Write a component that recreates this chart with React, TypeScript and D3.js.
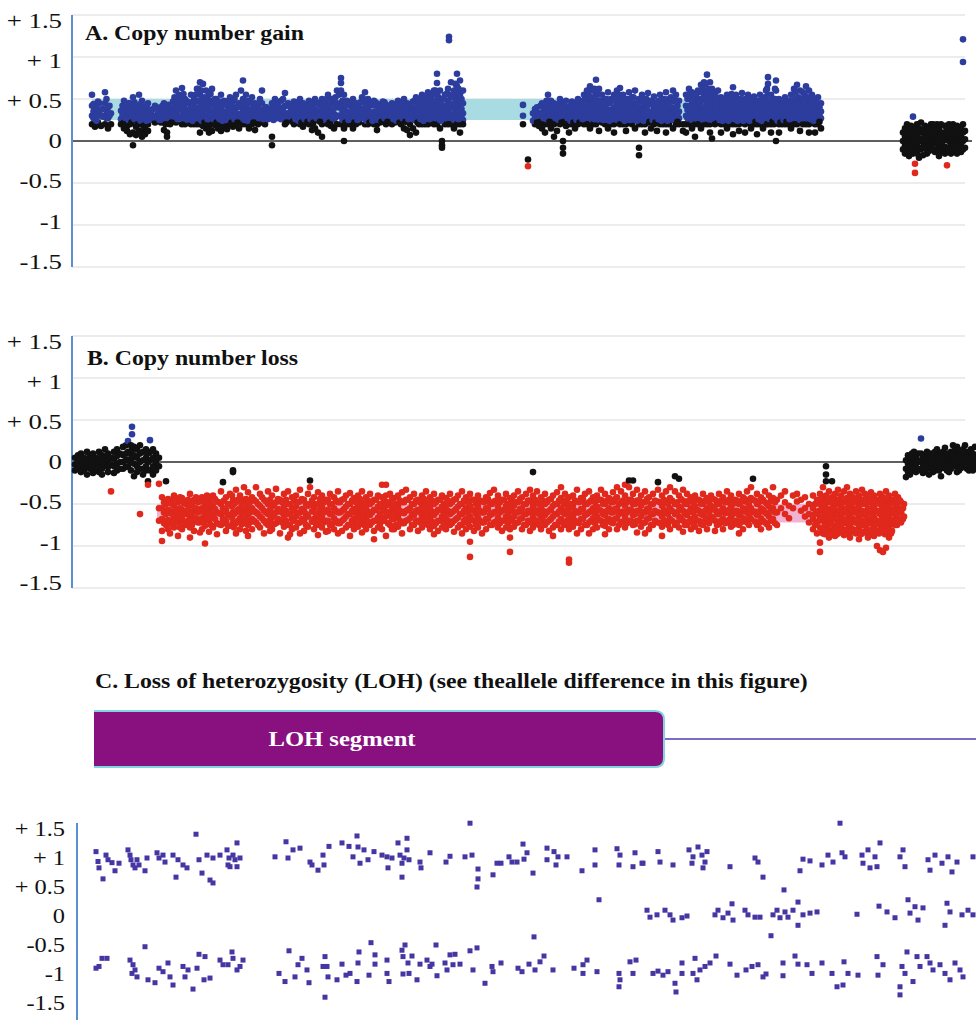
import React, { useEffect, useRef } from "react";
import * as d3 from "d3";

// y ticks shared by the three panels
const tickValues = [1.5, 1, 0.5, 0, -0.5, -1, -1.5];
const tickLabels = ["+ 1.5", "+ 1", "+ 0.5", "0", "-0.5", "-1", "-1.5"];

// probe position runs 0..904 along the chromosome (arbitrary units)
const positionDomain = [0, 904];

// A. copy number gain - each entry is [position, log2 ratio, log2 ratio, ...]
const gainProbes = [
  [20, .55, .42, .3, .2], [23, .38, .27, .17], [26, .47, .33, .22], [29, .3, .18], [33, .58, .45, .3, .2],
  [36, .4, .27, .15], [39, .33, .2], [49, .36, .26, .2], [52, .48, .32, .22, .15], [55, .4, .28, .18, .12],
  [58, .45, .3, .2, .08], [61, .52, .36, .25, .1, -.05], [64, .42, .3, .17, .07], [67, .55, .4, .27, .2, .12],
  [70, .48, .33, .22, .1, .05], [73, .4, .3, .15, .08], [76, .45, .28, .2, .12], [79, .35, .25], [83, .42, .3, .22],
  [86, .33, .27], [89, .4, .3, .22], [92, .45, .28, .13], [95, .37, .25, .1, .05], [98, .33, .27, .2],
  [101, .47, .35, .25], [104, .6, .45, .32, .22], [107, .55, .4, .28], [110, .63, .45, .3, .2], [113, .5, .38, .27, .2],
  [116, .45, .32, .25], [119, .55, .4, .3, .2], [122, .5, .35, .27, .2], [125, .62, .47, .33, .2],
  [128, .7, .55, .4, .28, .2, .1], [131, .68, .5, .37, .26, .18], [134, .6, .45, .3, .2, .15], [137, .55, .4, .28, .18, .1],
  [140, .62, .48, .34, .25, .2, .12], [143, .5, .37, .27, .19], [146, .45, .33, .25, .15], [149, .55, .4, .28, .2, .12],
  [152, .48, .35, .27, .18], [155, .42, .3, .2, .14], [158, .52, .38, .28, .2], [161, .47, .33, .25, .17],
  [164, .55, .4, .28, .2], [167, .45, .32, .25, .15], [171, .72, .5, .38, .27, .2], [174, .55, .4, .3, .2],
  [177, .48, .35, .27, .15], [180, .52, .38, .28, .2], [183, .45, .32, .25, .13], [186, .4, .3, .2], [190, .6, .45, .3, .22],
  [193, .4, .28, .2], [196, .35, .26], [200, .45, .3, .05, -.05], [203, .5, .38, .27], [206, .42, .3], [209, .48, .35, .26],
  [213, .57, .42, .3, .2], [216, .45, .33, .25], [219, .38, .28], [222, .47, .35, .27, .2], [225, .42, .3, .22],
  [228, .5, .36, .27, .2], [231, .45, .32, .25, .17], [234, .4, .3, .22], [237, .48, .35, .27, .2], [240, .43, .3, .2, .13],
  [243, .5, .37, .26, .15], [246, .45, .33, .25, .1], [250, .5, .38, .27, .2, .05], [253, .47, .33, .25],
  [256, .55, .4, .28, .2], [259, .5, .36, .27, .18], [262, .45, .32, .25, .15], [265, .6, .45, .3, .2],
  [269, .75, .69, .6, .45, .3, .2], [272, .55, .4, .28, .15, 0], [275, .48, .35, .25, .2], [278, .42, .3, .2],
  [281, .5, .37, .27, .15], [284, .45, .33, .25, .2], [287, .4, .3, .22], [290, .52, .38, .28], [293, .58, .45, .32, .2],
  [296, .5, .37, .27, .2], [299, .45, .33, .25], [302, .48, .35, .27, .2], [305, .42, .3, .2, .13], [308, .4, .3, .22],
  [311, .47, .35, .25], [314, .43, .32, .25, .2], [317, .38, .28], [320, .45, .33, .25, .2], [323, .4, .3, .22],
  [326, .48, .35, .27], [329, .44, .32, .25, .2], [332, .5, .36, .27, .15], [335, .45, .33, .25, .13], [338, .4, .3, .2, .07],
  [341, .47, .35, .27, .15], [344, .52, .38, .28, .1], [347, .45, .33, .25, .2], [350, .55, .4, .3, .2], [353, .5, .38, .28, .2],
  [356, .58, .45, .33, .2], [359, .52, .4, .3, .22], [362, .6, .45, .33, .25, .2], [365, .8, .69, .55, .4, .3, .2],
  [368, .6, .45, .33, .25, .15], [370, .5, .35, 0, -.05, -.08], [373, .55, .42, .3, .2], [376, .62, .48, .35, .25, .2],
  [377, 1.24, 1.2], [379, .7, .52, .4, .3, .2], [382, .6, .45, .33, .25, .15], [385, .8, .65, .5, .38, .28, .2],
  [388, .72, .55, .42, .3, .2, .1], [391, .6, .45, .33, .25, .2],
  [451, .43, .3, .2], [456, -.22, -.3], [463, .38, .28, .2], [467, .33, .26, .18], [470, .45, .32, .25, .15],
  [473, .4, .3, .2, .1], [476, .55, .42, .3, .2], [479, .48, .35, .25, .15], [482, .45, .32, .25, .2, .05],
  [485, .42, .3, .22, .12], [488, .5, .37, .27, .2], [491, .45, .33, .25, 0, -.08, -.15], [494, .48, .35, .25, .18],
  [497, .4, .3, .2, .1], [500, .47, .35, .27, .2], [503, .43, .32, .25, .15], [506, .5, .37, .27, .2], [509, .45, .33, .25],
  [512, .55, .4, .3, .2], [515, .6, .47, .35, .25, .2], [518, .65, .5, .38, .28, .15], [521, .6, .45, .33, .25, .2],
  [524, .73, .55, .4, .3, .2], [527, .62, .48, .35, .25, .12], [530, .55, .42, .3, .22], [533, .5, .38, .28, .2],
  [536, .58, .45, .33, .25, .15], [539, .5, .37, .27, .2], [542, .55, .4, .3, .2, .1], [545, .6, .45, .32, .25],
  [548, .63, .48, .35, .27, .2], [551, .55, .42, .3, .2], [554, .5, .37, .27, .2, .12], [557, .58, .45, .32, .25],
  [560, .52, .4, .28, .2], [563, .6, .45, .33, .25, .15], [567, .5, .37, .27, .2, -.08, -.17], [570, .55, .4, .3, .2],
  [573, .5, .38, .27, .2, .1], [576, .57, .43, .3, .22], [579, .48, .35, .27, .15], [582, .53, .4, .28, .2],
  [585, .45, .33, .25, .12], [588, .55, .42, .3, .2], [591, .5, .37, .27, .2], [594, .58, .43, .3, .2, .1],
  [597, .5, .38, .28, .2], [601, .6, .47, .35, .25, .15], [604, .55, .4, .3, .2], [607, .48, .35, .27, .2], [611, .2, .12],
  [614, .55, .42, .3, .2, .1], [617, .62, .5, .37, .27, .2], [620, .58, .45, .33, .25, .15], [623, .55, .42, .3, .2, .05],
  [626, .6, .47, .35, .25, .2], [629, .67, .5, .37, .27, .15], [632, .7, .55, .4, .3, .2], [635, .79, .6, .45, .33, .25, .2],
  [638, .7, .55, .4, .3, .2, .1], [640, .62, .48, .35, .25, .03], [643, .58, .45, .33, .25, .2], [646, .6, .45, .32, .22],
  [649, .52, .4, .28, .2, .1], [652, .5, .37, .27, .2], [655, .55, .42, .3, .2, .15], [658, .5, .38, .28, .2],
  [661, .64, .48, .35, .25, .2, .08], [664, .55, .42, .3, .2], [667, .5, .38, .27, .2, .12], [670, .57, .43, .32, .25],
  [673, .5, .37, .27, .2, .1], [676, .55, .42, .3, .22], [679, .5, .38, .27, .2, .15], [682, .53, .4, .28, .2],
  [685, .48, .35, .27, .2, .08], [688, .55, .42, .3, .2], [691, .5, .38, .28, .2, .15], [694, .6, .45, .33, .25, .2],
  [696, .76, .68, .55, .4, .3, .2], [699, .55, .42, .3, .2, .1], [702, .5, .37, .27, .2], [704, .72, .6, .45, .33, .25, 0],
  [707, .5, .38, .28, .2, .1], [710, .45, .33, .25, .2], [713, .52, .4, .28, .2], [716, .48, .35, .27, .2],
  [719, .55, .42, .3, .22, .15], [722, .62, .48, .35, .25, .2], [725, .67, .5, .37, .27, .2], [728, .6, .45, .33, .25, .12],
  [731, .58, .43, .3, .2], [734, .65, .5, .37, .27, .2], [737, .6, .47, .35, .25, .2, .1], [740, .55, .42, .3, .22],
  [743, .5, .38, .28, .2, .1], [746, .52, .4, .3, .25, .2], [749, .45, .35, .27, .15],
  [831, .1, 0, -.1], [833, .15, .05, -.05, -.15], [835, .2, .08, -.02, -.12], [837, .12, .02, -.08, -.18],
  [839, .18, .07, -.03, -.1], [841, .29, .15, .05, -.05, -.15], [843, .1, 0, -.12, -.27, -.38], [845, .2, .08, -.05, -.15],
  [847, .15, .03, -.08, -.2], [849, .22, .1, 0, -.1], [851, .12, .02, -.07, -.17], [853, .18, .05, -.05],
  [855, .1, 0, -.1, -.15], [857, .15, .05, -.05, -.12], [859, .2, .1, 0, -.08], [861, .2, .12, .02, -.1],
  [863, .17, .07, -.03, -.13], [865, .2, .1, 0, -.1], [867, .15, .05, -.05, -.18], [869, .2, .08, -.02, -.12],
  [871, .1, 0, -.1], [873, .18, .05, -.07, -.15], [875, .12, .02, -.08, -.29], [877, .2, .1, 0, -.1],
  [879, .15, .05, -.05, -.15], [881, .2, .08, -.03, -.12], [883, .12, .02, -.08], [885, .18, .06, -.05, -.15],
  [887, .1, 0, -.1], [889, .15, .05, -.05, -.13], [891, 1.21, .94, .2, .1, 0, -.1], [893, .12, .02, -.08],
];
// in-between probes of the dense gain core
const gainProbesInner = [
  [21.5, .44, .35, .27], [24.5, .4, .31, .24], [27.5, .45, .36], [30.5, .38, .29], [34.5, .5, .36, .27], [37.5, .42, .3],
  [50.5, .42, .31], [53.5, .38, .27, .2], [56.5, .45, .34, .25], [59.5, .4, .31, .22], [62.5, .46, .33, .26], [65.5, .36, .28, .2],
  [68.5, .44, .33, .24], [71.5, .38, .27, .18], [74.5, .42, .33, .24], [77.5, .37, .29], [81, .38, .28], [84.5, .4, .3],
  [87.5, .36, .25], [90.5, .42, .33, .25], [93.5, .39, .3, .2], [96.5, .43, .31], [99.5, .38, .3, .22], [102.5, .52, .42, .3],
  [105.5, .5, .36, .26], [108.5, .5, .38, .27], [111.5, .56, .42, .32], [114.5, .48, .35, .26], [117.5, .46, .35, .26],
  [120.5, .44, .32, .24], [123.5, .55, .4, .3], [126.5, .62, .48, .36, .27], [129.5, .6, .45, .33, .24], [132.5, .52, .4, .3, .22],
  [135.5, .5, .37, .26], [138.5, .56, .43, .3], [141.5, .45, .33, .26], [144.5, .5, .4, .3, .22], [147.5, .47, .35, .26],
  [150.5, .44, .32, .24], [153.5, .46, .34, .25], [156.5, .48, .36, .26], [159.5, .42, .3, .22], [162.5, .5, .36, .26],
  [165.5, .4, .3, .22], [169, .6, .44, .32], [172.5, .48, .35, .25], [175.5, .44, .32, .24], [178.5, .46, .34, .25],
  [181.5, .4, .3, .22], [184.5, .44, .34], [188, .5, .37, .27], [191.5, .36, .26], [194.5, .4, .3], [198, .38, .28],
  [201.5, .44, .34, .25], [204.5, .46, .36, .27], [207.5, .4, .3], [211, .5, .37, .27], [214.5, .42, .3, .22], [217.5, .44, .33],
  [220.5, .42, .31, .23], [223.5, .46, .36, .26], [226.5, .44, .32, .24], [229.5, .4, .3, .22], [232.5, .44, .34, .26],
  [235.5, .42, .31, .23], [238.5, .46, .36, .26], [241.5, .4, .3, .22], [244.5, .46, .35, .27], [248, .42, .32, .23],
  [251.5, .44, .3], [254.5, .5, .36, .26], [257.5, .43, .31, .22], [260.5, .5, .37, .27], [263.5, .52, .4, .28],
  [267, .55, .4, .3], [270.5, .48, .35, .25], [273.5, .44, .32, .22], [276.5, .45, .33, .25], [279.5, .46, .34],
  [282.5, .4, .3, .22], [285.5, .44, .34, .25], [288.5, .46, .36, .27], [291.5, .5, .38, .27], [294.5, .44, .32, .24],
  [297.5, .42, .31, .22], [300.5, .43, .33, .24], [303.5, .46, .35, .26], [306.5, .44, .34, .25], [309.5, .42, .31, .23],
  [312.5, .46, .36, .27], [315.5, .42, .32, .23], [318.5, .42, .3, .22], [321.5, .44, .35, .26], [324.5, .44, .33, .24],
  [327.5, .4, .3, .22], [330.5, .46, .36, .27], [333.5, .42, .31, .23], [336.5, .44, .35, .26], [339.5, .43, .32],
  [342.5, .48, .35, .25], [345.5, .42, .32, .22], [348.5, .5, .37, .26], [351.5, .45, .33, .24], [354.5, .52, .4, .3],
  [357.5, .47, .36, .26], [360.5, .55, .42, .3], [363.5, .6, .48, .36, .27], [366.5, .52, .4, .3], [369, .45, .3, .24],
  [371.5, .5, .38, .27], [374.5, .56, .42, .3], [377.5, .55, .42, .3], [380.5, .52, .4, .3], [383.5, .68, .56, .44, .32],
  [386.5, .62, .48, .36, .26], [389.5, .5, .38, .28],
  [461, .33, .24], [465, .4, .3, .22], [468.5, .42, .3, .23], [471.5, .36, .27], [474.5, .48, .36, .26], [477.5, .42, .31, .23],
  [480.5, .4, .3, .22], [483.5, .38, .27], [486.5, .44, .33, .25], [489.5, .4, .3, .22], [492.5, .42, .31, .23], [495.5, .36, .27],
  [498.5, .42, .32, .24], [501.5, .4, .3, .22], [504.5, .44, .33, .25], [507.5, .4, .3, .22], [510.5, .48, .36, .26],
  [513.5, .52, .4, .3], [516.5, .56, .43, .32], [519.5, .52, .4, .3], [522.5, .62, .48, .35, .26], [525.5, .55, .42, .3],
  [528.5, .48, .36, .26], [531.5, .45, .34, .25], [534.5, .5, .38, .28], [537.5, .45, .33, .24], [540.5, .48, .36, .26],
  [543.5, .5, .38, .28], [546.5, .55, .42, .3], [549.5, .5, .37, .27], [552.5, .45, .33, .24], [555.5, .5, .38, .27],
  [558.5, .46, .34, .25], [561.5, .52, .4, .29], [565, .44, .32, .24], [568.5, .48, .35, .26], [571.5, .45, .33, .24],
  [574.5, .5, .38, .27], [577.5, .44, .32, .23], [580.5, .47, .35, .25], [583.5, .42, .3, .22], [586.5, .48, .36, .26],
  [589.5, .45, .33, .24], [592.5, .5, .37, .26], [595.5, .45, .33, .24], [599, .52, .4, .3], [602.5, .5, .37, .26],
  [605.5, .42, .31, .23], [615.5, .5, .37, .27], [618.5, .55, .42, .3], [621.5, .5, .38, .27], [624.5, .52, .4, .3],
  [627.5, .58, .44, .32], [630.5, .62, .48, .35, .26], [633.5, .68, .52, .4, .29], [636.5, .62, .48, .36, .26], [639, .55, .42, .3],
  [641.5, .52, .4, .3], [644.5, .52, .4, .29], [647.5, .46, .34, .25], [650.5, .44, .33, .24], [653.5, .48, .36, .26],
  [656.5, .44, .33, .24], [659.5, .56, .42, .3], [662.5, .5, .37, .26], [665.5, .44, .33, .24], [668.5, .5, .37, .27],
  [671.5, .44, .33, .24], [674.5, .48, .36, .26], [677.5, .44, .33, .24], [680.5, .46, .34, .25], [683.5, .42, .31, .23],
  [686.5, .48, .36, .26], [689.5, .44, .33, .24], [692.5, .52, .4, .29], [695, .62, .48, .35], [697.5, .48, .36, .26],
  [700.5, .44, .32, .23], [703, .62, .5, .38, .28], [705.5, .44, .33, .24], [708.5, .4, .3, .22], [711.5, .46, .34, .25],
  [714.5, .42, .31, .23], [717.5, .48, .36, .26], [720.5, .55, .42, .3], [723.5, .58, .44, .32], [726.5, .52, .4, .29],
  [729.5, .5, .38, .27], [732.5, .56, .43, .31], [735.5, .52, .4, .29], [738.5, .48, .36, .26], [741.5, .44, .33, .24],
  [744.5, .46, .35, .26], [747.5, .4, .3, .23],
];
// called gain segment: [start, end, lower, upper]
const gainSegment = [20, 750, 0.25, 0.5];

// B. copy number loss
const lossProbes = [
  [3, .05, -.03, -.1], [6, .08, 0, -.08], [9, .1, .02, -.05, -.12], [12, .05, -.03, -.1], [15, .12, .03, -.05, -.15],
  [18, .08, 0, -.08], [21, .1, .02, -.06, -.13], [24, .05, -.02, -.1], [27, .12, .04, -.04, -.12], [30, .08, 0, -.08, -.15],
  [33, .15, .05, -.03], [36, .1, .02, -.06, -.12], [39, .05, -.03, -.35], [42, .12, .04, -.05, -.13], [45, .15, .07, -.02, -.1],
  [48, .1, 0, -.08], [51, .18, .08, 0, -.08], [54, .2, .1, .02, -.06], [56, .25, .12, .03, -.05], [59, .2, .1, 0, -.1],
  [60, .42, .33, .15, .05], [62, .18, .08, -.02, -.17], [65, .15, .05, -.05, -.12], [68, .2, .1, 0, -.08, -.62],
  [71, .12, .02, -.08, -.15], [74, .15, .05, -.05, -.1], [76, .1, 0, -.23, -.27], [78, .26, .12, .02, -.1],
  [81, .15, .05, -.05, -.15], [84, .1, 0, -.1], [87, .05, -.05, -.26, -.55, -.7],
  [90, -.42, -.55, -.68, -.82, -.94], [94, -.5, -.62, -.75, -.23], [98, -.45, -.58, -.7, -.85], [102, -.4, -.52, -.65, -.78],
  [106, -.48, -.6, -.72, -.88], [110, -.43, -.57, -.68, -.8], [114, -.5, -.62, -.75], [118, -.38, -.52, -.65, -.78, -.9],
  [122, -.45, -.58, -.7, -.82], [126, -.48, -.6, -.72], [130, -.42, -.55, -.67, -.8], [133, -.5, -.63, -.76, -.97],
  [137, -.45, -.57, -.7, -.83], [141, -.4, -.53, -.65, -.78], [145, -.47, -.6, -.73, -.86], [149, -.35, -.5, -.62, -.75],
  [151, -.24, -.55, -.68], [154, -.42, -.57, -.7, -.82], [158, -.38, -.5, -.63, -.76], [161, -.1, -.12, -.45, -.6, -.72],
  [164, -.33, -.48, -.6, -.73, -.85], [168, -.4, -.55, -.67, -.8], [172, -.3, -.45, -.58, -.7], [176, -.36, -.5, -.62, -.75, -.88],
  [180, -.42, -.55, -.68, -.8], [184, -.3, -.47, -.6, -.72], [188, -.38, -.52, -.65, -.78], [192, -.45, -.58, -.7, -.85],
  [196, -.35, -.5, -.62, -.75], [200, -.4, -.53, -.66, -.8], [204, -.32, -.48, -.6, -.73], [208, -.45, -.57, -.7, -.85],
  [212, -.38, -.52, -.64, -.77], [216, -.35, -.5, -.62, -.75, -.9], [220, -.42, -.55, -.68, -.8], [224, -.4, -.53, -.65, -.78],
  [228, -.33, -.47, -.6, -.72, -.85], [232, -.45, -.58, -.7, -.82], [236, -.38, -.52, -.65, -.77], [238, -.22, -.3, -.5],
  [242, -.42, -.55, -.68, -.8], [246, -.36, -.5, -.63, -.75, -.87], [250, -.4, -.53, -.66, -.78], [254, -.45, -.58, -.7, -.83],
  [258, -.38, -.5, -.62, -.75], [262, -.42, -.55, -.67, -.8], [266, -.35, -.48, -.6, -.73, -.85], [270, -.45, -.58, -.7, -.82],
  [274, -.4, -.53, -.65, -.78], [278, -.37, -.5, -.62, -.75, -.88], [282, -.43, -.56, -.68, -.8], [286, -.4, -.52, -.65, -.77],
  [290, -.35, -.48, -.6, -.72, -.84], [294, -.42, -.55, -.68, -.8], [298, -.38, -.5, -.63, -.75], [302, -.45, -.57, -.7, -.82, -.92],
  [306, -.4, -.53, -.66, -.78], [310, -.27, -.42, -.55, -.68, -.8], [314, -.27, -.4, -.52, -.65, -.88], [318, -.38, -.5, -.62, -.75],
  [322, -.43, -.56, -.68, -.8], [326, -.4, -.53, -.65, -.77], [330, -.36, -.48, -.6, -.73, -.85], [334, -.33, -.45, -.58, -.7],
  [338, -.42, -.55, -.67, -.8], [342, -.38, -.5, -.63, -.75], [346, -.45, -.57, -.7, -.82], [350, -.4, -.52, -.65, -.78],
  [354, -.35, -.48, -.6, -.73], [358, -.42, -.55, -.68, -.8], [362, -.38, -.5, -.63, -.76, -.86], [366, -.45, -.57, -.7, -.82],
  [370, -.4, -.53, -.65, -.78], [374, -.43, -.56, -.68, -.8], [378, -.38, -.5, -.62, -.75], [382, -.45, -.58, -.7, -.83],
  [386, -.4, -.53, -.66, -.78], [390, -.35, -.5, -.62, -.75, -.85], [394, -.42, -.55, -.68, -.8],
  [398, -.38, -.52, -.65, -.77, -.95, -1.13], [402, -.45, -.58, -.7, -.82], [406, -.4, -.53, -.66, -.78],
  [410, -.47, -.6, -.72, -.85], [414, -.42, -.55, -.68, -.8], [418, -.37, -.5, -.63, -.75], [422, -.33, -.47, -.6, -.72],
  [426, -.4, -.53, -.66, -.78], [430, -.45, -.58, -.7, -.82], [434, -.38, -.52, -.65, -.78], [438, -.43, -.56, -.68, -.8, -.9, -1.07],
  [442, -.4, -.52, -.65, -.77], [446, -.35, -.48, -.6, -.72], [450, -.42, -.55, -.67, -.8], [454, -.38, -.5, -.62, -.75],
  [458, -.33, -.46, -.58, -.7, -.82], [461, -.12, -.4, -.53, -.66, -.78], [465, -.35, -.48, -.6, -.73], [469, -.42, -.55, -.67, -.8],
  [473, -.38, -.5, -.63, -.75], [477, -.45, -.58, -.7, -.82], [481, -.4, -.52, -.65, -.78, -.88], [485, -.36, -.5, -.62, -.75],
  [489, -.3, -.43, -.55, -.68, -.8], [493, -.38, -.5, -.62, -.75], [497, -.42, -.55, -.68, -.8, -1.16, -1.2],
  [501, -.4, -.52, -.65, -.77], [505, -.33, -.47, -.6, -.72, -.85], [509, -.43, -.56, -.68, -.8], [513, -.38, -.5, -.63, -.75],
  [517, -.35, -.48, -.6, -.72, -.85], [521, -.42, -.55, -.67, -.8], [525, -.4, -.53, -.65, -.78], [529, -.33, -.45, -.58, -.7],
  [533, -.38, -.5, -.63, -.76, -.86], [537, -.43, -.55, -.68, -.8], [541, -.36, -.48, -.6, -.73], [545, -.3, -.42, -.55, -.67, -.8],
  [549, -.35, -.48, -.6, -.72], [553, -.27, -.4, -.52, -.65, -.78], [557, -.22, -.3, -.45, -.57, -.7],
  [561, -.22, -.38, -.5, -.63, -.75], [565, -.33, -.46, -.58, -.7, -.84], [569, -.4, -.52, -.65, -.77],
  [573, -.35, -.48, -.6, -.72, -.85], [577, -.42, -.55, -.67, -.8], [581, -.38, -.5, -.62, -.75], [586, -.24, -.33, -.47, -.6, -.72],
  [590, -.4, -.52, -.65, -.77, -.88], [594, -.35, -.48, -.6, -.72], [598, -.3, -.43, -.55, -.68, -.8],
  [603, -.17, -.35, -.5, -.62, -.75], [607, -.2, -.4, -.53, -.65, -.78], [611, -.33, -.46, -.58, -.7, -.83],
  [615, -.38, -.5, -.63, -.75], [619, -.42, -.55, -.68, -.8], [623, -.4, -.52, -.65, -.77], [627, -.45, -.58, -.7, -.82],
  [631, -.38, -.5, -.63, -.75], [635, -.43, -.55, -.67, -.8], [639, -.4, -.52, -.65], [643, -.45, -.57, -.7, -.82],
  [647, -.38, -.5, -.62, -.74], [651, -.42, -.55, -.68, -.8], [655, -.35, -.48, -.6, -.72], [659, -.4, -.53, -.65, -.77],
  [663, -.45, -.58, -.7], [667, -.38, -.5, -.63, -.75, -.85], [671, -.42, -.55, -.67, -.8], [675, -.35, -.48, -.6, -.72],
  [679, -.3, -.43, -.55, -.68], [681, -.2, -.45, -.6], [685, -.38, -.5, -.63, -.75], [689, -.42, -.55, -.67, -.8],
  [693, -.35, -.48, -.6, -.72], [697, -.4, -.53, -.65, -.78], [701, -.3, -.43, -.55, -.68], [705, -.45, -.6, -.75],
  [709, -.4, -.55], [713, -.35, -.48, -.62], [717, -.52, -.67], [721, -.4, -.55], [725, -.38, -.47], [729, -.45, -.58],
  [733, -.42, -.55, -.65], [737, -.5, -.62, -.72], [741, -.4, -.55, -.68, -.8], [745, -.45, -.6, -.72, -.85],
  [748, -.38, -.5, -.65, -.78, -.96, -1.07], [751, -.3, -.45, -.58, -.7, -.85], [754, -.05, -.15, -.23, -.4, -.55, -.68, -.8],
  [757, -.35, -.48, -.62, -.75, -.9], [760, -.23, -.42, -.55, -.68, -.82], [763, -.38, -.5, -.63, -.77, -.88],
  [766, -.33, -.45, -.58, -.7, -.84], [769, -.4, -.53, -.65, -.78], [772, -.35, -.48, -.6, -.73, -.87],
  [775, -.3, -.43, -.55, -.68, -.8], [778, -.38, -.5, -.63, -.75, -.9], [781, -.42, -.55, -.68, -.8],
  [784, -.35, -.48, -.6, -.72, -.85], [787, -.4, -.52, -.65, -.78, -.92], [790, -.33, -.45, -.58, -.7, -.83],
  [793, -.38, -.5, -.63, -.76], [796, -.42, -.55, -.67, -.8, -.9], [799, -.36, -.48, -.6, -.73],
  [802, -.4, -.53, -.66, -.78, -.88], [805, -.45, -.58, -.7, -.82, -1.0], [808, -.38, -.5, -.62, -.75, -1.05],
  [811, -.42, -.55, -.68, -.8, -1.07], [814, -.35, -.48, -.6, -.72, -1.02], [817, -.4, -.53, -.65, -.78, -.9],
  [820, -.45, -.57, -.7, -.82], [823, -.38, -.5, -.62, -.75], [826, -.42, -.55, -.67], [829, -.48, -.6, -.72], [832, -.5, -.65],
  [834, .02, -.08, -.18], [836, .08, -.02, -.12], [838, .05, -.05, -.15], [840, .1, 0, -.1], [842, .12, .03, -.07],
  [844, .08, -.02, -.12], [846, .1, .02, -.08], [849, .28, .1, 0, -.1], [851, .05, -.05, -.13], [853, .08, 0, -.1],
  [855, .12, .02, -.08], [857, .05, -.05, -.15], [859, .1, 0, -.08], [861, .08, -.03, -.12], [863, .12, .02, -.1],
  [865, .15, .05, -.05], [867, .1, 0, -.1], [869, .08, -.02, -.17], [871, .12, .03, -.07], [873, .17, .07, -.03],
  [875, .1, 0, -.1], [877, .05, -.05, -.12], [879, .12, .02, -.08], [881, .2, .1, 0], [883, .15, .05, -.05],
  [885, .18, .08, -.02, -.12], [887, .1, 0, -.1], [889, .12, .03, -.07], [891, .15, .05, -.05], [893, .2, .1, 0],
  [895, .12, .02, -.08], [897, .08, -.02, -.1], [899, .15, .05, -.05], [901, .1, 0, -.1], [903, .18, .05, -.05],
];
// in-between probes of the dense loss core
const lossProbesInner = [
  [92, -.48, -.6, -.73], [96, -.44, -.57, -.69, -.8], [100, -.5, -.62, -.74], [104, -.46, -.58, -.71], [108, -.42, -.55, -.66, -.78],
  [112, -.49, -.61, -.73], [116, -.45, -.57, -.7], [120, -.5, -.62, -.75], [124, -.42, -.55, -.67], [128, -.47, -.59, -.72, -.84],
  [132, -.45, -.58, -.7], [135, -.4, -.54, -.66], [139, -.5, -.62, -.75], [143, -.44, -.56, -.68], [147, -.48, -.61, -.74],
  [152, -.46, -.6, -.73], [156, -.5, -.63, -.76], [160, -.4, -.53, -.66], [162, -.5, -.62, -.78], [166, -.45, -.57, -.7],
  [170, -.5, -.62, -.74], [174, -.44, -.56, -.68, -.82], [178, -.48, -.6, -.72], [182, -.45, -.58, -.7], [186, -.5, -.62, -.75],
  [190, -.42, -.55, -.67], [194, -.47, -.6, -.73], [198, -.45, -.57, -.69, -.82], [202, -.5, -.62, -.74], [206, -.44, -.56, -.68],
  [210, -.48, -.6, -.72], [214, -.45, -.58, -.7], [218, -.5, -.62, -.75, -.86], [222, -.46, -.58, -.7], [226, -.48, -.61, -.73],
  [230, -.44, -.56, -.68], [234, -.5, -.62, -.75], [240, -.46, -.59, -.71], [244, -.5, -.62, -.74], [248, -.44, -.57, -.69],
  [252, -.48, -.6, -.72], [256, -.45, -.57, -.7, -.82], [260, -.5, -.62, -.74], [264, -.46, -.58, -.7], [268, -.48, -.6, -.73],
  [272, -.44, -.56, -.68], [276, -.5, -.62, -.75], [280, -.46, -.58, -.7], [284, -.48, -.61, -.74], [288, -.44, -.56, -.68],
  [292, -.5, -.62, -.75], [296, -.46, -.59, -.71], [300, -.48, -.6, -.72], [304, -.45, -.57, -.7], [308, -.5, -.62, -.74],
  [312, -.46, -.58, -.7], [316, -.48, -.6, -.73], [320, -.44, -.56, -.68, -.8], [324, -.5, -.62, -.75], [328, -.46, -.58, -.7],
  [332, -.48, -.61, -.73], [336, -.45, -.57, -.69], [340, -.5, -.62, -.75], [344, -.46, -.58, -.7], [348, -.48, -.6, -.72],
  [352, -.44, -.56, -.68], [356, -.5, -.62, -.75], [360, -.46, -.59, -.71], [364, -.48, -.6, -.73], [368, -.45, -.57, -.7],
  [372, -.5, -.62, -.74], [376, -.46, -.58, -.7], [380, -.48, -.6, -.73], [384, -.44, -.56, -.68], [388, -.5, -.62, -.75],
  [392, -.46, -.58, -.7], [396, -.48, -.61, -.73], [400, -.45, -.57, -.69], [404, -.5, -.62, -.75], [408, -.46, -.58, -.7],
  [412, -.48, -.6, -.72], [416, -.44, -.56, -.68], [420, -.5, -.62, -.75], [424, -.46, -.59, -.71], [428, -.48, -.6, -.73],
  [432, -.45, -.57, -.7], [436, -.5, -.62, -.74], [440, -.46, -.58, -.7], [444, -.48, -.6, -.73], [448, -.44, -.56, -.68],
  [452, -.5, -.62, -.75], [456, -.46, -.58, -.7], [460, -.48, -.61, -.73], [463, -.45, -.57, -.69], [467, -.5, -.62, -.75],
  [471, -.46, -.58, -.7], [475, -.48, -.6, -.72], [479, -.44, -.56, -.68], [483, -.5, -.62, -.75], [487, -.46, -.59, -.71],
  [491, -.48, -.6, -.73], [495, -.45, -.57, -.7], [499, -.5, -.62, -.74], [503, -.46, -.58, -.7], [507, -.48, -.6, -.73],
  [511, -.44, -.56, -.68], [515, -.5, -.62, -.75], [519, -.46, -.58, -.7], [523, -.48, -.61, -.73], [527, -.45, -.57, -.69],
  [531, -.5, -.62, -.75], [535, -.46, -.58, -.7], [539, -.48, -.6, -.72], [543, -.44, -.56, -.68], [547, -.5, -.62, -.75],
  [551, -.46, -.59, -.71], [555, -.48, -.6, -.73], [559, -.45, -.57, -.7], [563, -.5, -.62, -.74], [567, -.46, -.58, -.7],
  [571, -.48, -.6, -.73], [575, -.44, -.56, -.68], [579, -.5, -.62, -.75], [583, -.46, -.58, -.7], [588, -.48, -.61, -.73],
  [592, -.45, -.57, -.69], [596, -.5, -.62, -.75], [600, -.46, -.58, -.7], [605, -.48, -.6, -.72], [609, -.44, -.56, -.68],
  [613, -.5, -.62, -.75], [617, -.46, -.59, -.71], [621, -.48, -.6, -.73], [625, -.45, -.57, -.7], [629, -.5, -.62, -.74],
  [633, -.46, -.58, -.7], [637, -.48, -.6, -.73], [641, -.44, -.56, -.68], [645, -.5, -.62, -.75], [649, -.46, -.58, -.7],
  [653, -.48, -.61, -.73], [657, -.45, -.57, -.69], [661, -.5, -.62, -.75], [665, -.46, -.58, -.7], [669, -.48, -.6, -.72],
  [673, -.44, -.56, -.68], [677, -.5, -.62, -.75], [683, -.46, -.59, -.71], [687, -.48, -.6, -.73], [691, -.45, -.57, -.7],
  [695, -.5, -.62, -.74], [699, -.46, -.58, -.7], [703, -.48, -.6, -.73], [743, -.5, -.62, -.75], [747, -.46, -.58, -.7],
  [750, -.44, -.56, -.68, -.8], [753, -.5, -.62, -.75, -.86], [756, -.46, -.58, -.7, -.82], [759, -.48, -.6, -.72, -.84],
  [762, -.44, -.56, -.68, -.8], [765, -.5, -.62, -.75, -.86], [768, -.46, -.58, -.7, -.82], [771, -.48, -.61, -.73, -.85],
  [774, -.45, -.57, -.69, -.81], [777, -.5, -.62, -.75, -.87], [780, -.46, -.58, -.7, -.82], [783, -.48, -.6, -.72, -.84],
  [786, -.44, -.56, -.68, -.8], [789, -.5, -.62, -.75, -.86], [792, -.46, -.59, -.71, -.83], [795, -.48, -.6, -.73, -.85],
  [798, -.45, -.57, -.7, -.82], [801, -.5, -.62, -.74, -.86], [804, -.46, -.58, -.7, -.82], [807, -.48, -.6, -.73, -.85],
  [810, -.44, -.56, -.68, -.8], [813, -.5, -.62, -.75, -.86], [816, -.46, -.58, -.7, -.82], [819, -.48, -.61, -.73, -.85],
  [822, -.45, -.57, -.69], [825, -.5, -.62, -.75], [828, -.46, -.58, -.7], [831, -.55, -.68],
];
const lossSegment = [85, 833, -0.72, -0.5];

// C. allele difference, [position, value]
const alleleUpper = [
  [24, 1.11], [26, .94], [27, .83], [31, .64], [34, 1.05], [36, .97], [40, .92], [43, .78], [47, .91], [56, 1.14],
  [58, 1.05], [59, .97], [61, .88], [63, .83], [65, .97], [67, .88], [73, .78], [75, 1.0], [85, 1.09], [87, 1.0],
  [91, 1.05], [93, .93], [101, 1.05], [104, .67], [106, .97], [111, .88], [115, .83], [124, 1.41], [127, .97], [130, .74],
  [135, 1.05], [138, .62], [141, .57], [141, 1.0], [148, 1.05], [155, 1.14], [156, .88], [157, 1.0], [158, .85], [161, 1.05],
  [163, .97], [165, 1.26], [165, .85], [168, 1.0], [203, 1.02], [214, 1.28], [216, 1.0], [221, 1.14], [228, 1.17], [238, .93],
  [240, .88], [246, .79], [251, 1.05], [252, .88], [257, 1.2], [270, 1.26], [277, 1.2], [281, 1.02], [285, 1.38], [286, 1.19],
  [288, .91], [292, 1.14], [296, .97], [302, 1.11], [310, 1.05], [315, 1.02], [316, .83], [320, 1.0], [326, 1.26], [328, 1.05],
  [330, .91], [330, .67], [332, 1.0], [335, 1.34], [335, 1.14], [337, .97], [348, .93], [349, .83], [358, 1.09], [374, .93],
  [378, 1.03], [393, 1.02], [398, 1.6], [400, 1.05], [406, .81], [406, .64], [405, .5], [421, .71], [425, .91], [429, .91],
  [437, 1.02], [440, .93], [445, .93], [451, 1.24], [452, .98], [455, 1.09], [461, .74], [475, 1.17], [475, .97], [482, 1.11],
  [484, .88], [486, 1.02], [495, 1.02], [510, .78], [523, 1.14], [523, .88], [545, 1.16], [548, 1.05], [547, .88], [563, 1.09],
  [561, .85], [570, .91], [571, .91], [586, 1.11], [588, .93], [601, .88], [617, 1.14], [620, .91], [621, 1.02], [626, 1.19],
  [630, 1.05], [631, .83], [635, 1.11], [633, .93], [658, .85], [683, 1.0], [686, .93], [691, .67], [731, .98], [738, .95],
  [728, .78], [750, .88], [756, 1.05], [761, .93], [768, 1.6], [770, 1.09], [773, 1.02], [790, 1.05], [791, .91], [796, 1.14],
  [798, .83], [803, 1.02], [805, .85], [808, 1.26], [828, 1.02], [831, 1.14], [833, .85], [856, .97], [858, .79], [863, 1.05],
  [870, .91], [876, 1.02], [880, .76], [885, .93], [901, 1.02],
];
const alleleMiddle = [
  [527, .28], [575, .1], [578, -.02], [585, .02], [593, .1], [598, .02], [601, -.07], [610, -.03], [615, 0], [643, .02],
  [646, .1], [651, -.03], [656, .05], [660, .21], [661, -.07], [673, .1], [676, .02], [683, -.02], [688, -.02], [699, -.34],
  [701, .02], [705, .1], [708, -.03], [712, .45], [713, .07], [716, -.02], [721, .1], [726, .24], [726, -.16], [731, .02],
  [738, .05], [745, .07], [785, .03], [807, .17], [815, .07], [823, -.03], [836, .28], [838, .05], [843, .16], [846, -.07],
  [851, .14], [873, -.16], [875, .22], [878, .07], [890, .02], [896, .1], [901, .02],
];
const alleleLower = [
  [24, -.9], [27, -.87], [30, -.73], [35, -.73], [58, -.76], [60, -.99], [61, -.84], [63, -.93], [65, -1.05], [73, -.53],
  [76, -1.1], [83, -1.15], [87, -.9], [91, -.96], [96, -.81], [98, -1.05], [101, -1.19], [111, -.87], [113, -1.05], [116, -.93],
  [121, -1.26], [125, -.9], [127, -.66], [132, -1.1], [133, -.7], [138, -1.07], [148, -.76], [151, -.84], [156, -.84], [160, -.62],
  [161, -.73], [165, -.93], [168, -.87], [171, -.76], [207, -.99], [213, -1.13], [217, -.6], [223, -1.05], [226, -.84], [230, -.73],
  [235, -.93], [237, -1.15], [251, -.87], [253, -1.4], [253, -.7], [255, -.87], [256, -1.05], [265, -1.1], [270, -.83], [274, -1.02],
  [278, -.99], [285, -1.13], [286, -.81], [287, -.62], [297, -1.02], [299, -.46], [303, -.67], [303, -.83], [315, -.76], [315, -.99],
  [317, -1.13], [330, -.59], [331, -.7], [331, -1.0], [333, -.5], [336, -.81], [337, -.99], [340, -.69], [345, -1.1], [348, -.83],
  [355, -.76], [358, -.87], [360, -.83], [364, -.5], [365, -1.03], [373, -.81], [375, -.93], [378, -.67], [381, -.84], [383, -.66],
  [388, -.83], [398, -.6], [401, -.93], [405, -.55], [413, -1.16], [420, -.87], [421, -.96], [429, -.81], [446, -.9], [450, -.96],
  [457, -.83], [462, -.36], [463, -.93], [468, -.79], [472, -.69], [481, -.93], [502, -.9], [511, -.84], [511, -.99], [515, -.76],
  [525, -.96], [547, -.99], [547, -1.22], [548, -1.1], [558, -.79], [561, -.99], [564, -.76], [581, -.99], [586, -.95], [591, -1.02],
  [596, -.96], [603, -1.16], [604, -1.31], [610, -.81], [610, -.99], [621, -.99], [623, -.73], [625, -1.1], [628, -.93], [633, -.87],
  [638, -.81], [644, -.69], [658, -.83], [665, -1.02], [674, -.93], [680, -.87], [686, -.84], [691, -1.05], [694, -1.0], [711, -.81],
  [711, -1.03], [723, -.69], [726, -.83], [735, -.84], [740, -.99], [750, -.81], [760, -.99], [765, -1.22], [771, -1.19], [772, -.79],
  [776, -.99], [786, -1.02], [805, -.7], [806, -1.02], [811, -.84], [828, -1.22], [828, -1.36], [830, -.87], [833, -.99], [835, -.62],
  [841, -1.13], [845, -.7], [848, -.87], [855, -.7], [858, -.81], [861, -.93], [868, -.84], [873, -.99], [878, -1.1], [883, -.81],
  [888, -.93], [891, -1.05],
];
// region of loss of heterozygosity, [start, end]
const lohSegment = [22, 592];

const FONT = "'Liberation Serif', 'Times New Roman', serif";
const BLUE = "#2d3d9e";
const RED = "#e0281c";
const BLACK = "#111111";
// the figure's lettering is stretched sideways
const STRETCH = 1.19;

function ratioColor(v: number) {
  if (v > 0.235) return BLUE;
  if (v < -0.24) return RED;
  return BLACK;
}

function flatten(cols: number[][]) {
  return cols.flatMap(([p, ...vs]) => vs.map((v) => ({ p, v })));
}

function stretchedText(g: any, x: number, y: number, sx: number) {
  return g.append("text").attr("transform", `translate(${x},${y}) scale(${sx},1)`);
}

function drawTicks(g: any, values: number[], ly: any, right: number, size: number) {
  values.forEach((d, i) => {
    stretchedText(g, right, ly(d), 1.22)
      .attr("dy", "0.35em")
      .attr("text-anchor", "end")
      .attr("font-family", FONT)
      .attr("font-size", size)
      .attr("fill", "#111")
      .text(tickLabels[i]);
  });
}

function drawRatioPanel(svg: any, x: any, o: any) {
  const y = d3.scaleLinear().domain([-1.5, 1.5]).range([o.bottom, o.top]);
  // tick labels sit a little inside the gridlines in the original
  const ly = d3.scaleLinear().domain([-1.5, 1.5]).range([o.bottom - 6, o.top + 5]);
  const g = svg.append("g");

  g.selectAll(".grid")
    .data(tickValues.filter((d) => d !== 0))
    .enter()
    .append("line")
    .attr("x1", 72)
    .attr("x2", 965)
    .attr("y1", (d: number) => y(d))
    .attr("y2", (d: number) => y(d))
    .attr("stroke", "#e6e6e6")
    .attr("stroke-width", 1.5);

  const [s0, s1, lo, hi] = o.segment;
  g.append("rect")
    .attr("x", x(s0))
    .attr("width", x(s1) - x(s0))
    .attr("y", y(hi))
    .attr("height", y(lo) - y(hi))
    .attr("fill", o.segmentColor);

  g.append("line")
    .attr("x1", 72)
    .attr("x2", 972)
    .attr("y1", y(0))
    .attr("y2", y(0))
    .attr("stroke", "#2a2a2a")
    .attr("stroke-width", 1.6);

  g.append("line")
    .attr("x1", 72)
    .attr("x2", 72)
    .attr("y1", y(1.5))
    .attr("y2", y(-1.5))
    .attr("stroke", "#5b8fd0")
    .attr("stroke-width", 2);

  drawTicks(g, tickValues, ly, 62, 22);

  g.selectAll(".pt")
    .data(flatten([...o.probes, ...o.inner]))
    .enter()
    .append("circle")
    .attr("cx", (d: any) => x(d.p))
    .attr("cy", (d: any) => y(d.v))
    .attr("r", 3.3)
    .attr("fill", (d: any) => ratioColor(d.v));

  stretchedText(g, o.titleX, o.titleY, STRETCH)
    .attr("font-family", FONT)
    .attr("font-size", 20)
    .attr("font-weight", "bold")
    .attr("fill", "#111")
    .text(o.title);
}

function drawLohPanel(svg: any, x: any) {
  const g = svg.append("g");
  stretchedText(g, 95, 688, STRETCH)
    .attr("font-family", FONT)
    .attr("font-size", 20)
    .attr("font-weight", "bold")
    .attr("fill", "#111")
    .text("C. Loss of heterozygosity (LOH) (see theallele difference in this figure)");

  // LOH segment bar, square on the left, rounded on the right
  const x0 = x(lohSegment[0]);
  const x1 = x(lohSegment[1]);
  const top = 711;
  const bot = 767;
  const r = 9;
  g.append("line")
    .attr("x1", x1)
    .attr("x2", x(positionDomain[1]))
    .attr("y1", (top + bot) / 2)
    .attr("y2", (top + bot) / 2)
    .attr("stroke", "#7b6cc4")
    .attr("stroke-width", 2);
  g.append("path")
    .attr("d", `M${x0},${top}H${x1 - r}Q${x1},${top} ${x1},${top + r}V${bot - r}Q${x1},${bot} ${x1 - r},${bot}H${x0}`)
    .attr("fill", "#89117f")
    .attr("stroke", "#7fd6dc")
    .attr("stroke-width", 2);
  stretchedText(g, (x0 + x1) / 2 - 37, 746, 1.12)
    .attr("text-anchor", "middle")
    .attr("font-family", FONT)
    .attr("font-size", 22)
    .attr("font-weight", "bold")
    .attr("fill", "#ffffff")
    .text("LOH segment");

  const y = d3.scaleLinear().domain([-1.5, 1.5]).range([1003, 829]);
  g.append("line")
    .attr("x1", 77)
    .attr("x2", 77)
    .attr("y1", 823)
    .attr("y2", 1020)
    .attr("stroke", "#5b8fd0")
    .attr("stroke-width", 2);

  drawTicks(g, tickValues, y, 65, 20);

  const pts = [...alleleUpper, ...alleleMiddle, ...alleleLower];
  const s = 5;
  g.selectAll(".sq")
    .data(pts)
    .enter()
    .append("rect")
    .attr("x", (d: number[]) => x(d[0]) - s / 2)
    .attr("y", (d: number[]) => y(d[1]) - s / 2)
    .attr("width", s)
    .attr("height", s)
    .attr("fill", "#4536a4");
}

export default function App() {
  const ref = useRef<SVGSVGElement>(null);

  useEffect(() => {
    const svg = d3.select(ref.current);
    svg.selectAll("*").remove();
    const x = d3.scaleLinear().domain(positionDomain).range([72, 976]);

    drawRatioPanel(svg, x, {
      top: 15,
      bottom: 267,
      probes: gainProbes,
      inner: gainProbesInner,
      segment: gainSegment,
      segmentColor: "#a9dbe3",
      title: "A. Copy number gain",
      titleX: 85,
      titleY: 40,
    });
    drawRatioPanel(svg, x, {
      top: 336,
      bottom: 588,
      probes: lossProbes,
      inner: lossProbesInner,
      segment: lossSegment,
      segmentColor: "#f2b3d3",
      title: "B. Copy number loss",
      titleX: 87,
      titleY: 365,
    });
    drawLohPanel(svg, x);
  }, []);

  return (
    <svg
      ref={ref}
      width={976}
      height={1020}
      style={{ position: "absolute", left: 0, top: 0, background: "#fff" }}
    />
  );
}
